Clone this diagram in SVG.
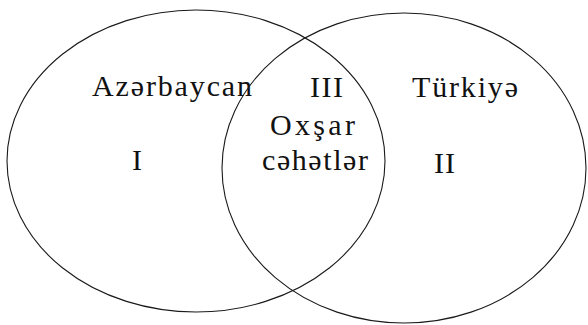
<svg xmlns="http://www.w3.org/2000/svg" width="588" height="325" viewBox="0 0 588 325">
<style>
.ell{fill:none;stroke:#1a1a1a;stroke-width:1.1}
.t{font-family:"Liberation Serif","Times New Roman",serif;font-size:30px;fill:#111}
</style>
<rect width="588" height="325" fill="#fff"/>
<g id="set-azerbaijan">
<ellipse class="ell" cx="196" cy="161" rx="189" ry="151"/>
<text class="t" x="92" y="96" textLength="160" lengthAdjust="spacing">Azərbaycan</text>
<text class="t" x="132" y="170" font-size="32">I</text>
</g>
<g id="set-turkey">
<ellipse class="ell" cx="404" cy="168" rx="182" ry="155"/>
<text class="t" x="412" y="97" textLength="106" lengthAdjust="spacing">Türkiyə</text>
<text class="t" x="434" y="173" textLength="21" lengthAdjust="spacing">II</text>
</g>
<g id="intersection">
<text class="t" x="310" y="97" textLength="33" lengthAdjust="spacing">III</text>
<text class="t" x="270" y="135" textLength="85" lengthAdjust="spacing">Oxşar</text>
<text class="t" x="262" y="170" textLength="106" lengthAdjust="spacing">cəhətlər</text>
</g>
<g id="connectors"></g>
</svg>
